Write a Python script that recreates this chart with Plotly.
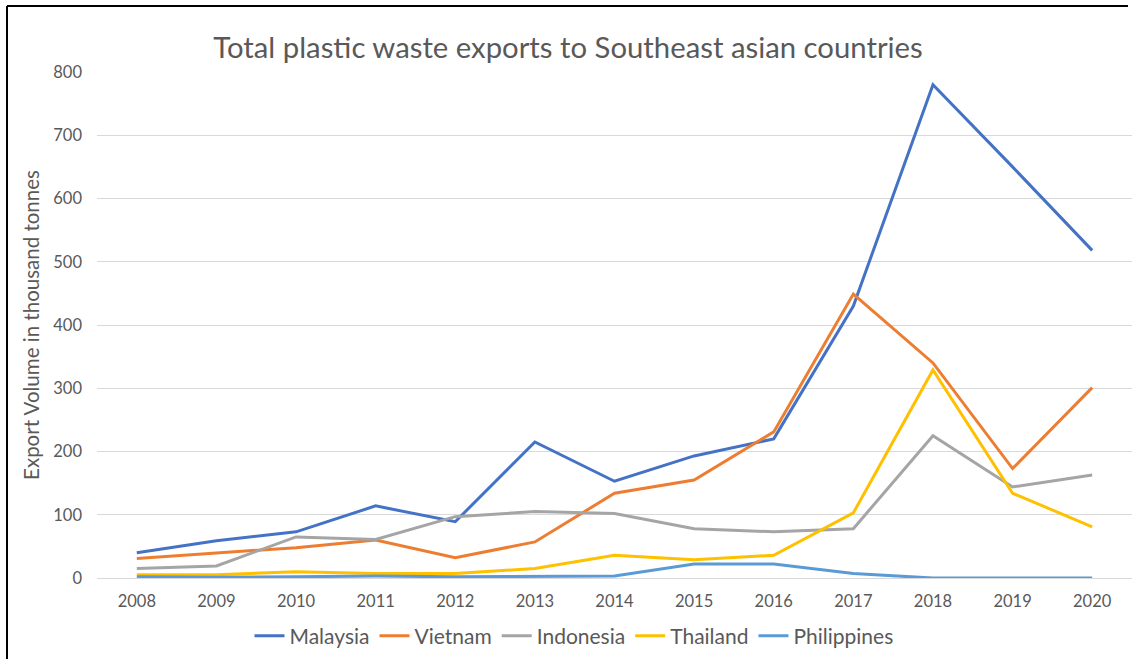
import plotly.graph_objects as go

years = list(range(2008, 2021))
malaysia = [40, 59, 73, 114, 89, 215, 153, 193, 220, 430, 780, 650, 518]
vietnam = [31, 40, 48, 60, 32, 57, 134, 155, 231, 449, 340, 173, 301]
indonesia = [15, 19, 65, 61, 97, 105, 102, 78, 73, 78, 225, 144, 163]
thailand = [5, 5, 10, 7, 7, 15, 36, 29, 36, 103, 329, 134, 81]
philippines = [2, 1, 2, 3, 2, 2, 3, 22, 22, 7, 0, 0, 0]

series = [
    ("Malaysia", malaysia, "#4472C4"),
    ("Vietnam", vietnam, "#ED7D31"),
    ("Indonesia", indonesia, "#A5A5A5"),
    ("Thailand", thailand, "#FFC000"),
    ("Philippines", philippines, "#5B9BD5"),
]

W, H = 1133, 659
L, R, T, B = 97, 1, 72, 81
pw, ph = W - L - R, H - T - B
FONT = "Lato, Open Sans, sans-serif"
GREY = "#595959"

fig = go.Figure()
for name, vals, col in series:
    fig.add_trace(go.Scatter(x=years, y=vals, name=name, mode="lines",
                             line=dict(color=col, width=3)))

def px_x(p):
    return (p - L) / pw

def px_y(p):
    return (H - B - p) / ph

fig.update_layout(
    width=W, height=H,
    margin=dict(l=L, r=R, t=T, b=B, autoexpand=False),
    paper_bgcolor="white", plot_bgcolor="white",
    font=dict(family=FONT, color=GREY, size=16),
    title=dict(text="Total plastic waste exports to Southeast asian countries",
               x=568 / W, xanchor="center", xref="container",
               y=1 - 48 / H, yanchor="middle", yref="container",
               font=dict(size=29.3, color=GREY, family=FONT)),
    xaxis=dict(range=[2007.5, 2020.5], tickmode="array", tickvals=years,
               ticktext=[str(y) for y in years], showgrid=False, zeroline=False,
               showline=True, linecolor="#D9D9D9", linewidth=1, ticks="",
               ticklabelstandoff=8,
               tickfont=dict(size=16.5, color=GREY, family=FONT)),
    yaxis=dict(range=[0, 800], tickvals=[0, 100, 200, 300, 400, 500, 600, 700, 800],
               showgrid=True, gridcolor="#D9D9D9", gridwidth=1, zeroline=False,
               ticks="", ticklabelstandoff=14, automargin=False,
               title=dict(text="Export Volume in thousand tonnes", standoff=8,
                          font=dict(size=20.5, color=GREY, family=FONT)),
               tickfont=dict(size=16.5, color=GREY, family=FONT)),
    legend=dict(orientation="h", x=574 / W, xanchor="center", xref="container",
                y=1 - 636 / H, yanchor="middle", yref="container",
                font=dict(size=21, color=GREY, family=FONT), itemwidth=30,
                bgcolor="rgba(0,0,0,0)"),
    shapes=[
        dict(type="line", xref="paper", yref="paper", x0=px_x(7), x1=px_x(1128),
             y0=px_y(6), y1=px_y(6), line=dict(color="black", width=2)),
        dict(type="line", xref="paper", yref="paper", x0=px_x(7), x1=px_x(7),
             y0=px_y(6), y1=px_y(662), line=dict(color="black", width=2)),
    ],
)

fig.write_html("out.html")
